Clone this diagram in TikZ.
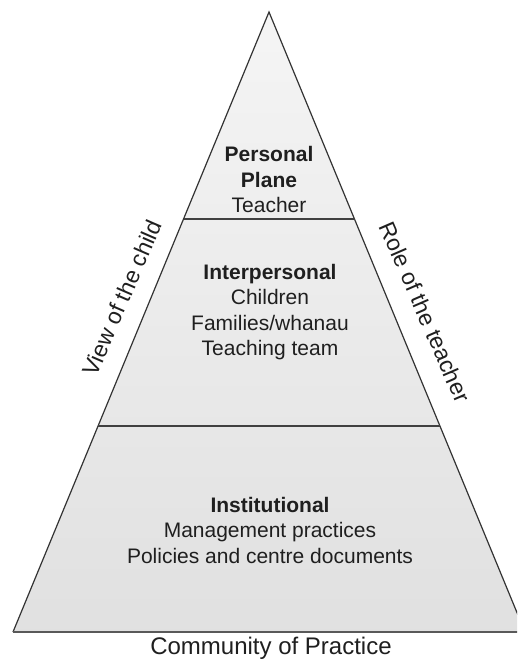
\documentclass[tikz,border=0pt]{standalone}
\usepackage{fontspec}
\setmainfont{Liberation Sans}
\begin{document}
\begin{tikzpicture}[x=1pt,y=-1pt,
  tier/.style={align=center,inner sep=0pt,text=black!88,font=\fontsize{21}{25.5}\selectfont},
  sidelabel/.style={inner sep=0pt,text=black!88,font=\fontsize{23}{27}\selectfont},
  edge/.style={draw=black!80,line width=1.2pt},
  divider/.style={draw=black!75,line width=1.4pt}]
\useasboundingbox (0,0) rectangle (517,669);
\clip (0,0) rectangle (517,669);
\fill[white] (0,0) rectangle (517,669);
% coordinates
\coordinate (apex) at (269,12);
\coordinate (bl) at (13,632);
\coordinate (br) at (525,632);
\coordinate (d1l) at (183.5,219);
\coordinate (d1r) at (354.5,219);
\coordinate (d2l) at (98.1,426);
\coordinate (d2r) at (439.9,426);
% pyramid body
\shade[top color=black!4,bottom color=black!12] (apex) -- (br) -- (bl) -- cycle;
\draw[edge] (bl) -- (apex) -- (br);
\draw[draw=black!65,line width=2pt] (bl) -- (br);
\draw[divider] (d1l) -- (d1r);
\draw[divider] (d2l) -- (d2r);
% tier texts
\node[tier] (personal) at (269,179.5) {\textbf{Personal}\\\textbf{Plane}\\Teacher};
\node[tier] (inter) at (270,312.3) {\textbf{Interpersonal}\\Children\\Families/whanau\\Teaching team};
\node[tier] (inst) at (270,530) {\textbf{Institutional}\\Management practices\\Policies and centre documents};
% side labels
\node[sidelabel,rotate=66.5] (view) at (122,298) {View of the child};
\node[sidelabel,rotate=-66.5] (role) at (425,312) {Role of the teacher};
% bottom label
\node[inner sep=0pt,anchor=base,text=black!88,font=\fontsize{24}{28}\selectfont] (cop) at (271,654) {Community of Practice};
\end{tikzpicture}
\end{document}
